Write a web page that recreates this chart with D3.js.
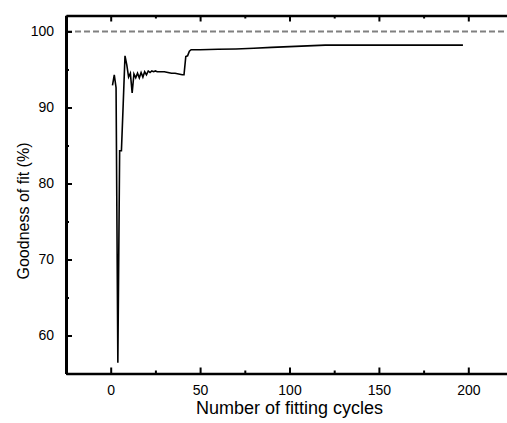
<!DOCTYPE html>
<html>
<head>
<meta charset="utf-8">
<script src="https://cdn.jsdelivr.net/npm/d3@7"></script>
<style>
html, body { margin: 0; padding: 0; background: #fff; }
svg { display: block; font-family: "Liberation Sans", Arial, sans-serif; }
</style>
</head>
<body>
<svg id="chart" width="507" height="423"></svg>
<script>
const cycles = [1, 2, 3, 4, 5, 6, 7, 8, 9, 10, 11, 12, 13, 14, 15, 16, 17, 18, 19, 20,
  21, 22, 23, 24, 25, 26, 28, 30, 32, 34, 36, 38, 40, 41, 42, 43, 44, 45, 50,
  60, 70, 80, 90, 100, 110, 120, 150, 197];
const goodness = [92.9, 94.3, 92.6, 56.4, 84.3, 84.3, 90.5, 96.8, 95.6, 94.0, 94.5, 91.9, 94.4, 93.9, 94.5, 93.9, 94.6, 94.0, 94.7, 94.3,
  94.8, 94.6, 94.8, 94.7, 94.8, 94.7, 94.7, 94.7, 94.6, 94.5, 94.5, 94.4, 94.3, 94.3, 96.7, 96.8, 97.4, 97.6, 97.6,
  97.65, 97.7, 97.8, 97.9, 98.0, 98.1, 98.2, 98.2, 98.2];
const xTicks = [0, 50, 100, 150, 200];
const xMinorTicks = [-25, 25, 75, 125, 175, 225];
const yTicks = [60, 70, 80, 90, 100];
const yMinorTicks = [55, 65, 75, 85, 95];
const refLevel = 100;
const xTitle = "Number of fitting cycles";
const yTitle = "Goodness of fit (%)";

(function () {
const svg = d3.select("#chart");
const mLeft = 66, mRight = 513, mTop = 15.5, mBottom = 373.5;
const x = d3.scaleLinear().domain([-25, 225]).range([mLeft, mRight]);
const y = d3.scaleLinear().domain([55, 102.1]).range([mBottom, mTop]);

// dashed reference line
svg.append("line")
  .attr("x1", mLeft).attr("x2", 507)
  .attr("y1", y(refLevel)).attr("y2", y(refLevel))
  .attr("stroke", "#808080").attr("stroke-width", 2)
  .attr("stroke-dasharray", "6,3");

// data line
const line = d3.line().x((d, i) => x(cycles[i])).y(d => y(d));
svg.append("path")
  .datum(goodness)
  .attr("d", line)
  .attr("fill", "none")
  .attr("stroke", "#000")
  .attr("stroke-width", 1.6)
  .attr("stroke-linejoin", "miter");

function styleAxis(g) {
  g.select(".domain").attr("stroke", "#000").attr("stroke-width", 2.5);
  g.selectAll(".tick line").attr("stroke", "#000").attr("stroke-width", 2);
}
function minorStyle(g) {
  g.select(".domain").remove();
  g.selectAll(".tick line").attr("stroke", "#000").attr("stroke-width", 2);
}

// bottom axis
const xAxis = svg.append("g").attr("transform", `translate(0,${mBottom})`)
  .call(d3.axisBottom(x).tickValues(xTicks).tickSizeInner(-6).tickSizeOuter(0).tickPadding(12));
styleAxis(xAxis);
xAxis.selectAll("text").attr("font-size", 14).attr("fill", "#000")
  .attr("font-family", "Liberation Sans, Arial, sans-serif");
svg.append("g").attr("transform", `translate(0,${mBottom})`)
  .call(d3.axisBottom(x).tickValues(xMinorTicks).tickSize(-3).tickFormat(""))
  .call(minorStyle);

// top axis
const xTop = svg.append("g").attr("transform", `translate(0,${mTop})`)
  .call(d3.axisTop(x).tickValues(xTicks).tickSizeInner(-6).tickSizeOuter(0).tickFormat(""));
styleAxis(xTop);
svg.append("g").attr("transform", `translate(0,${mTop})`)
  .call(d3.axisTop(x).tickValues(xMinorTicks).tickSize(-3).tickFormat(""))
  .call(minorStyle);

// left axis
const yAxis = svg.append("g").attr("transform", `translate(${mLeft},0)`)
  .call(d3.axisLeft(y).tickValues(yTicks).tickSizeInner(-6).tickSizeOuter(0).tickPadding(12));
styleAxis(yAxis);
yAxis.select(".domain").attr("stroke-width", 3);
yAxis.selectAll("text").attr("font-size", 14).attr("fill", "#000")
  .attr("font-family", "Liberation Sans, Arial, sans-serif");
svg.append("g").attr("transform", `translate(${mLeft},0)`)
  .call(d3.axisLeft(y).tickValues(yMinorTicks).tickSize(-3).tickFormat(""))
  .call(minorStyle);

// titles
svg.append("text")
  .attr("x", (193 + 386) / 2).attr("y", 414)
  .attr("text-anchor", "middle")
  .attr("font-size", 18)
  .attr("fill", "#000")
  .text(xTitle);
svg.append("text")
  .attr("transform", `translate(29,211) rotate(-90)`)
  .attr("text-anchor", "middle")
  .attr("font-size", 16)
  .attr("fill", "#000")
  .text(yTitle);
})();
</script>
</body>
</html>
